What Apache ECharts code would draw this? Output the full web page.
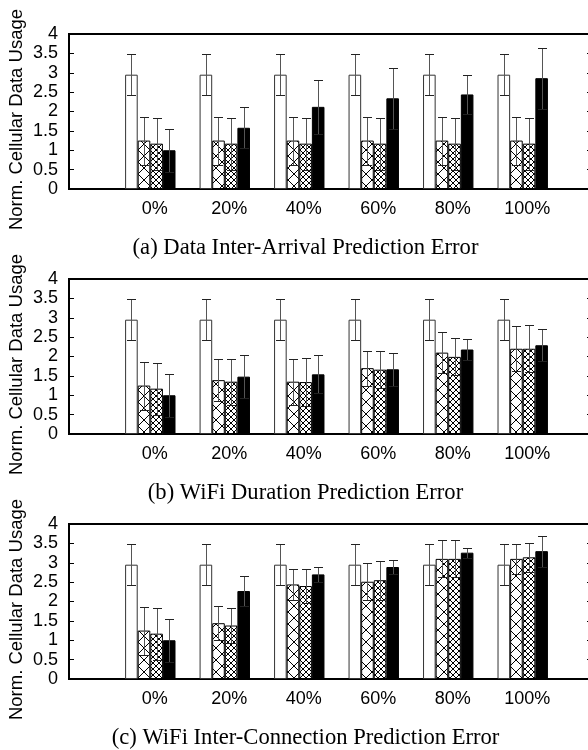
<!DOCTYPE html>
<html>
<head>
<meta charset="utf-8">
<script src="https://cdn.jsdelivr.net/npm/echarts@6/dist/echarts.min.js"></script>
<style>
  html, body { margin: 0; padding: 0; background: #fff; }
  #chart { width: 588px; height: 750px; }
</style>
</head>
<body>
<div id="chart"></div>
<script>
// categories / labels
const categories = ['0%', '20%', '40%', '60%', '80%', '100%'];
const captions = [
  '(a) Data Inter-Arrival Prediction Error',
  '(b) WiFi Duration Prediction Error',
  '(c) WiFi Inter-Connection Prediction Error'
];
const yName = 'Norm. Cellular Data Usage';

// (a) data inter-arrival
const aWhite = [2.95, 2.95, 2.95, 2.95, 2.95, 2.95];
const aWhiteErr = [0.53, 0.53, 0.53, 0.53, 0.53, 0.53];
const aHatch = [1.25, 1.25, 1.25, 1.25, 1.25, 1.25];
const aHatchErr = [0.62, 0.62, 0.62, 0.62, 0.62, 0.62];
const aCross = [1.17, 1.17, 1.17, 1.17, 1.17, 1.17];
const aCrossErr = [0.67, 0.67, 0.67, 0.67, 0.67, 0.67];
const aBlack = [1.0, 1.58, 2.12, 2.34, 2.44, 2.86];
const aBlackErr = [0.55, 0.53, 0.70, 0.78, 0.50, 0.79];

// (b) wifi duration
const bWhite = [2.95, 2.95, 2.95, 2.95, 2.95, 2.95];
const bWhiteErr = [0.53, 0.53, 0.53, 0.53, 0.53, 0.53];
const bHatch = [1.25, 1.39, 1.35, 1.70, 2.10, 2.20];
const bHatchErr = [0.62, 0.55, 0.59, 0.45, 0.52, 0.58];
const bCross = [1.17, 1.35, 1.34, 1.66, 1.99, 2.20];
const bCrossErr = [0.67, 0.59, 0.61, 0.47, 0.48, 0.61];
const bBlack = [1.0, 1.48, 1.54, 1.67, 2.18, 2.29];
const bBlackErr = [0.55, 0.55, 0.49, 0.42, 0.27, 0.41];

// (c) wifi inter-connection
const cWhite = [2.95, 2.95, 2.95, 2.95, 2.95, 2.95];
const cWhiteErr = [0.53, 0.53, 0.53, 0.53, 0.53, 0.53];
const cHatch = [1.25, 1.44, 2.44, 2.51, 3.10, 3.10];
const cHatchErr = [0.62, 0.44, 0.40, 0.48, 0.48, 0.39];
const cCross = [1.17, 1.38, 2.40, 2.55, 3.10, 3.14];
const cCrossErr = [0.67, 0.45, 0.43, 0.50, 0.48, 0.38];
const cBlack = [1.0, 2.27, 2.70, 2.89, 3.26, 3.30];
const cBlackErr = [0.55, 0.39, 0.19, 0.17, 0.13, 0.40];

const panels = [
  { vals: [aWhite, aHatch, aCross, aBlack], errs: [aWhiteErr, aHatchErr, aCrossErr, aBlackErr] },
  { vals: [bWhite, bHatch, bCross, bBlack], errs: [bWhiteErr, bHatchErr, bCrossErr, bBlackErr] },
  { vals: [cWhite, cHatch, cCross, cBlack], errs: [cWhiteErr, cHatchErr, cCrossErr, cBlackErr] }
];

const tops = [34, 279, 524];
const BAR_W = 12.6;
const CAP = 4.5;

// hatch fill
function hatch(size) {
  const c = document.createElement('canvas');
  c.width = size; c.height = size;
  const g = c.getContext('2d');
  g.fillStyle = '#fff';
  g.fillRect(0, 0, size, size);
  g.strokeStyle = '#000';
  g.lineWidth = 1;
  g.beginPath();
  g.moveTo(0, 0); g.lineTo(size, size);
  g.moveTo(size, 0); g.lineTo(0, size);
  g.stroke();
  return { image: c, repeat: 'repeat' };
}

const fills = ['#fff', hatch(12), hatch(6), '#000'];

const grid = [], xAxis = [], yAxis = [], series = [], graphic = [];

panels.forEach((p, pi) => {
  grid.push({
    left: 69, right: -4, top: tops[pi], height: 155,
    show: true, borderColor: '#000', borderWidth: 2, backgroundColor: 'transparent',
    outerBoundsMode: 'none'
  });
  xAxis.push({
    type: 'value', gridIndex: pi, min: -1.0916, max: 5.93, splitNumber: 7,
    axisLine: { show: false, onZero: false }, axisTick: { show: false }, splitLine: { show: false },
    axisLabel: {
      margin: 11, color: '#000', fontSize: 18, fontFamily: 'Liberation Sans',
      padding: [0, 0, 0, 9],
      formatter: v => {
        const r = Math.round(v);
        return Math.abs(v - r) < 1e-6 && r >= 0 && r < categories.length ? categories[r] : '';
      }
    }
  });
  yAxis.push({
    type: 'value', gridIndex: pi, min: 0, max: 4, interval: 0.5, position: 'left',
    name: yName, nameLocation: 'middle', nameGap: 43, nameMoveOverlap: false,
    nameTextStyle: { color: '#000', fontSize: 18.5, fontFamily: 'Liberation Sans', padding: [0, 16, 0, 0] },
    axisLine: { show: false, onZero: false },
    axisTick: { show: true, inside: true, length: 5, lineStyle: { color: '#000' } },
    splitLine: { show: false },
    axisLabel: { margin: 11, color: '#000', fontSize: 18, fontFamily: 'Liberation Sans' }
  });
  yAxis.push({
    type: 'value', gridIndex: pi, min: 0, max: 4, interval: 0.5, position: 'right',
    axisLine: { show: false, onZero: false },
    axisTick: { show: true, inside: true, length: 5, lineStyle: { color: '#000' } },
    splitLine: { show: false },
    axisLabel: { show: false }
  });

  p.vals.forEach((vals, k) => {
    series.push({
      type: 'bar', xAxisIndex: pi, yAxisIndex: pi * 2,
      barWidth: BAR_W, barGap: '0%',
      itemStyle: { color: fills[k], borderColor: k === 0 ? '#333' : '#000', borderWidth: 1 },
      data: vals.map((v, i) => [i, v]),
      z: 2
    });
  });

  const errData = [];
  p.vals.forEach((vals, k) => {
    vals.forEach((v, i) => errData.push([i, v, p.errs[k][i], k]));
  });
  series.push({
    type: 'custom', xAxisIndex: pi, yAxisIndex: pi * 2, z: 3,
    encode: { x: 0, y: 1 },
    data: errData,
    renderItem: (params, api) => {
      const x = api.value(0), v = api.value(1), e = api.value(2), k = api.value(3);
      const hi = api.coord([x, v + e]);
      const lo = api.coord([x, v - e]);
      const cx = Math.round(hi[0] + (k - 1.5) * BAR_W) + 0.5;
      const y1 = Math.round(hi[1]) + 0.5, y2 = Math.round(lo[1]) + 0.5;
      return {
        type: 'group',
        children: [
          { type: 'line', shape: { x1: cx, y1: y1, x2: cx, y2: y2 }, style: { stroke: '#555', lineWidth: 1 } },
          { type: 'line', shape: { x1: cx - CAP, y1: y1, x2: cx + CAP, y2: y1 }, style: { stroke: '#222', lineWidth: 1 } },
          { type: 'line', shape: { x1: cx - CAP, y1: y2, x2: cx + CAP, y2: y2 }, style: { stroke: '#222', lineWidth: 1 } }
        ]
      };
    }
  });

  graphic.push({
    type: 'text', x: 305.5, y: tops[pi] + 214,
    style: {
      text: captions[pi], fill: '#000', font: '22.6px "Liberation Serif"',
      textAlign: 'center', textVerticalAlign: 'middle'
    }
  });
});

const chart = echarts.init(document.getElementById('chart'));
chart.setOption({
  animation: false,
  grid: grid,
  xAxis: xAxis,
  yAxis: yAxis,
  series: series,
  graphic: graphic
});
</script>
</body>
</html>
